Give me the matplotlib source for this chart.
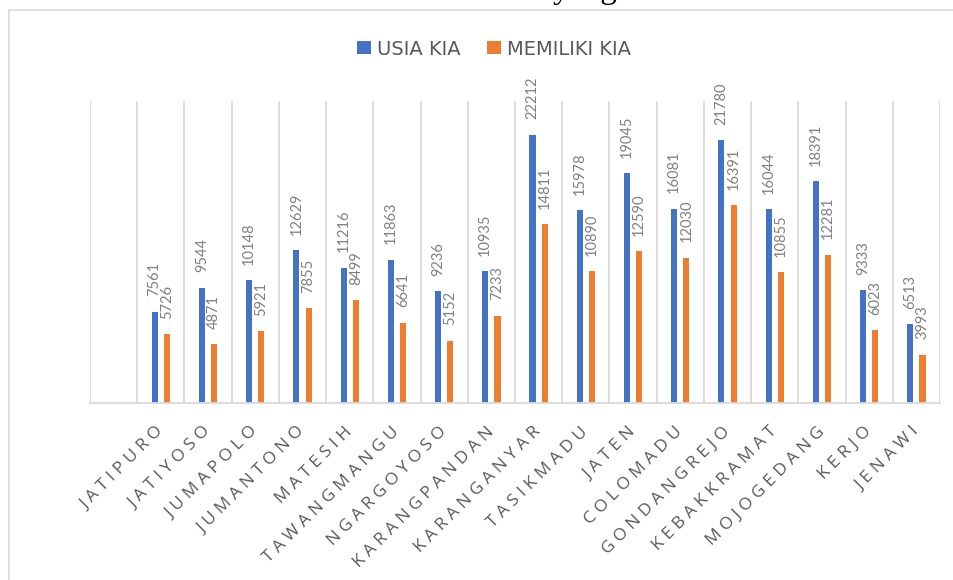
import numpy as np
import matplotlib
matplotlib.use('Agg')
import matplotlib.pyplot as plt
from matplotlib.patches import Rectangle

# data (first column in the chart is an empty category)
kecamatan = ['', 'JATIPURO', 'JATIYOSO', 'JUMAPOLO', 'JUMANTONO', 'MATESIH', 'TAWANGMANGU',
             'NGARGOYOSO', 'KARANGPANDAN', 'KARANGANYAR', 'TASIKMADU', 'JATEN', 'COLOMADU',
             'GONDANGREJO', 'KEBAKKRAMAT', 'MOJOGEDANG', 'KERJO', 'JENAWI']
usia_kia = [np.nan, 7561, 9544, 10148, 12629, 11216, 11863, 9236, 10935, 22212, 15978,
            19045, 16081, 21780, 16044, 18391, 9333, 6513]
memiliki_kia = [np.nan, 5726, 4871, 5921, 7855, 8499, 6641, 5152, 7233, 14811, 10890,
                12590, 12030, 16391, 10855, 12281, 6023, 3993]

blue = '#4472C4'
orange = '#ED7D31'
grey_txt = '#595959'
lbl_col = '#808080'
grid_col = '#d9d9d9'

fig = plt.figure(figsize=(9.54, 5.8), dpi=100)
ax = fig.add_axes([90/954, 177/580, 850/954, 302/580])

x = np.arange(len(kecamatan))
w = 0.13
ax.bar(x - w, usia_kia, width=w, color=blue, label='USIA KIA')
ax.bar(x + w, memiliki_kia, width=w, color=orange, label='MEMILIKI KIA')

# data labels, rotated, above the bars
for xi, v1, v2 in zip(x, usia_kia, memiliki_kia):
    if np.isnan(v1):
        continue
    ax.annotate(str(v1), (xi - w, v1), xytext=(0, 11), textcoords='offset points',
                rotation=90, ha='center', va='bottom', color=lbl_col, fontsize=10.5,
                family='Lato')
    ax.annotate(str(v2), (xi + w, v2), xytext=(0, 11), textcoords='offset points',
                rotation=90, ha='center', va='bottom', color=lbl_col, fontsize=10.5,
                family='Lato')

ax.set_xlim(-0.5, len(kecamatan) - 0.5)
ax.set_ylim(0, 25000)

# vertical lines between categories
for b in np.arange(-0.5, len(kecamatan), 1.0):
    ax.axvline(b, color=grid_col, lw=1.3, zorder=0)

for s in ['top', 'right', 'left']:
    ax.spines[s].set_visible(False)
ax.spines['bottom'].set_color(grid_col)
ax.spines['bottom'].set_linewidth(1.3)
ax.set_yticks([])
ax.set_xticks(x)
# letter-spaced category names
spaced = ['\u2009\u200a'.join(k) for k in kecamatan]
ax.set_xticklabels(spaced, rotation=45, ha='right', va='center', rotation_mode='anchor',
                   color=grey_txt, fontsize=12.5, family=['Open Sans', 'DejaVu Sans'])
ax.tick_params(axis='x', length=0, pad=19)

fig.legend(loc='center', bbox_to_anchor=(0.518, 0.9155), ncol=2, frameon=False,
           handlelength=0.72, handleheight=0.67, handletextpad=0.31, columnspacing=1.34,
           prop={'family': 'DejaVu Sans', 'size': 14},
           labelcolor=grey_txt)

# chart frame
fig.patches.append(Rectangle((9/954, -0.1), 1.2, 0.1 + 1 - 10/580, transform=fig.transFigure,
                             fill=False, edgecolor=grid_col, lw=1.2))

# cut-off title fragment at the very top
fig.text(0.613, 1.003, 'yang', ha='center', va='baseline', fontsize=24,
         family='Liberation Serif', color='black')

fig.savefig('out.png', dpi=100)
